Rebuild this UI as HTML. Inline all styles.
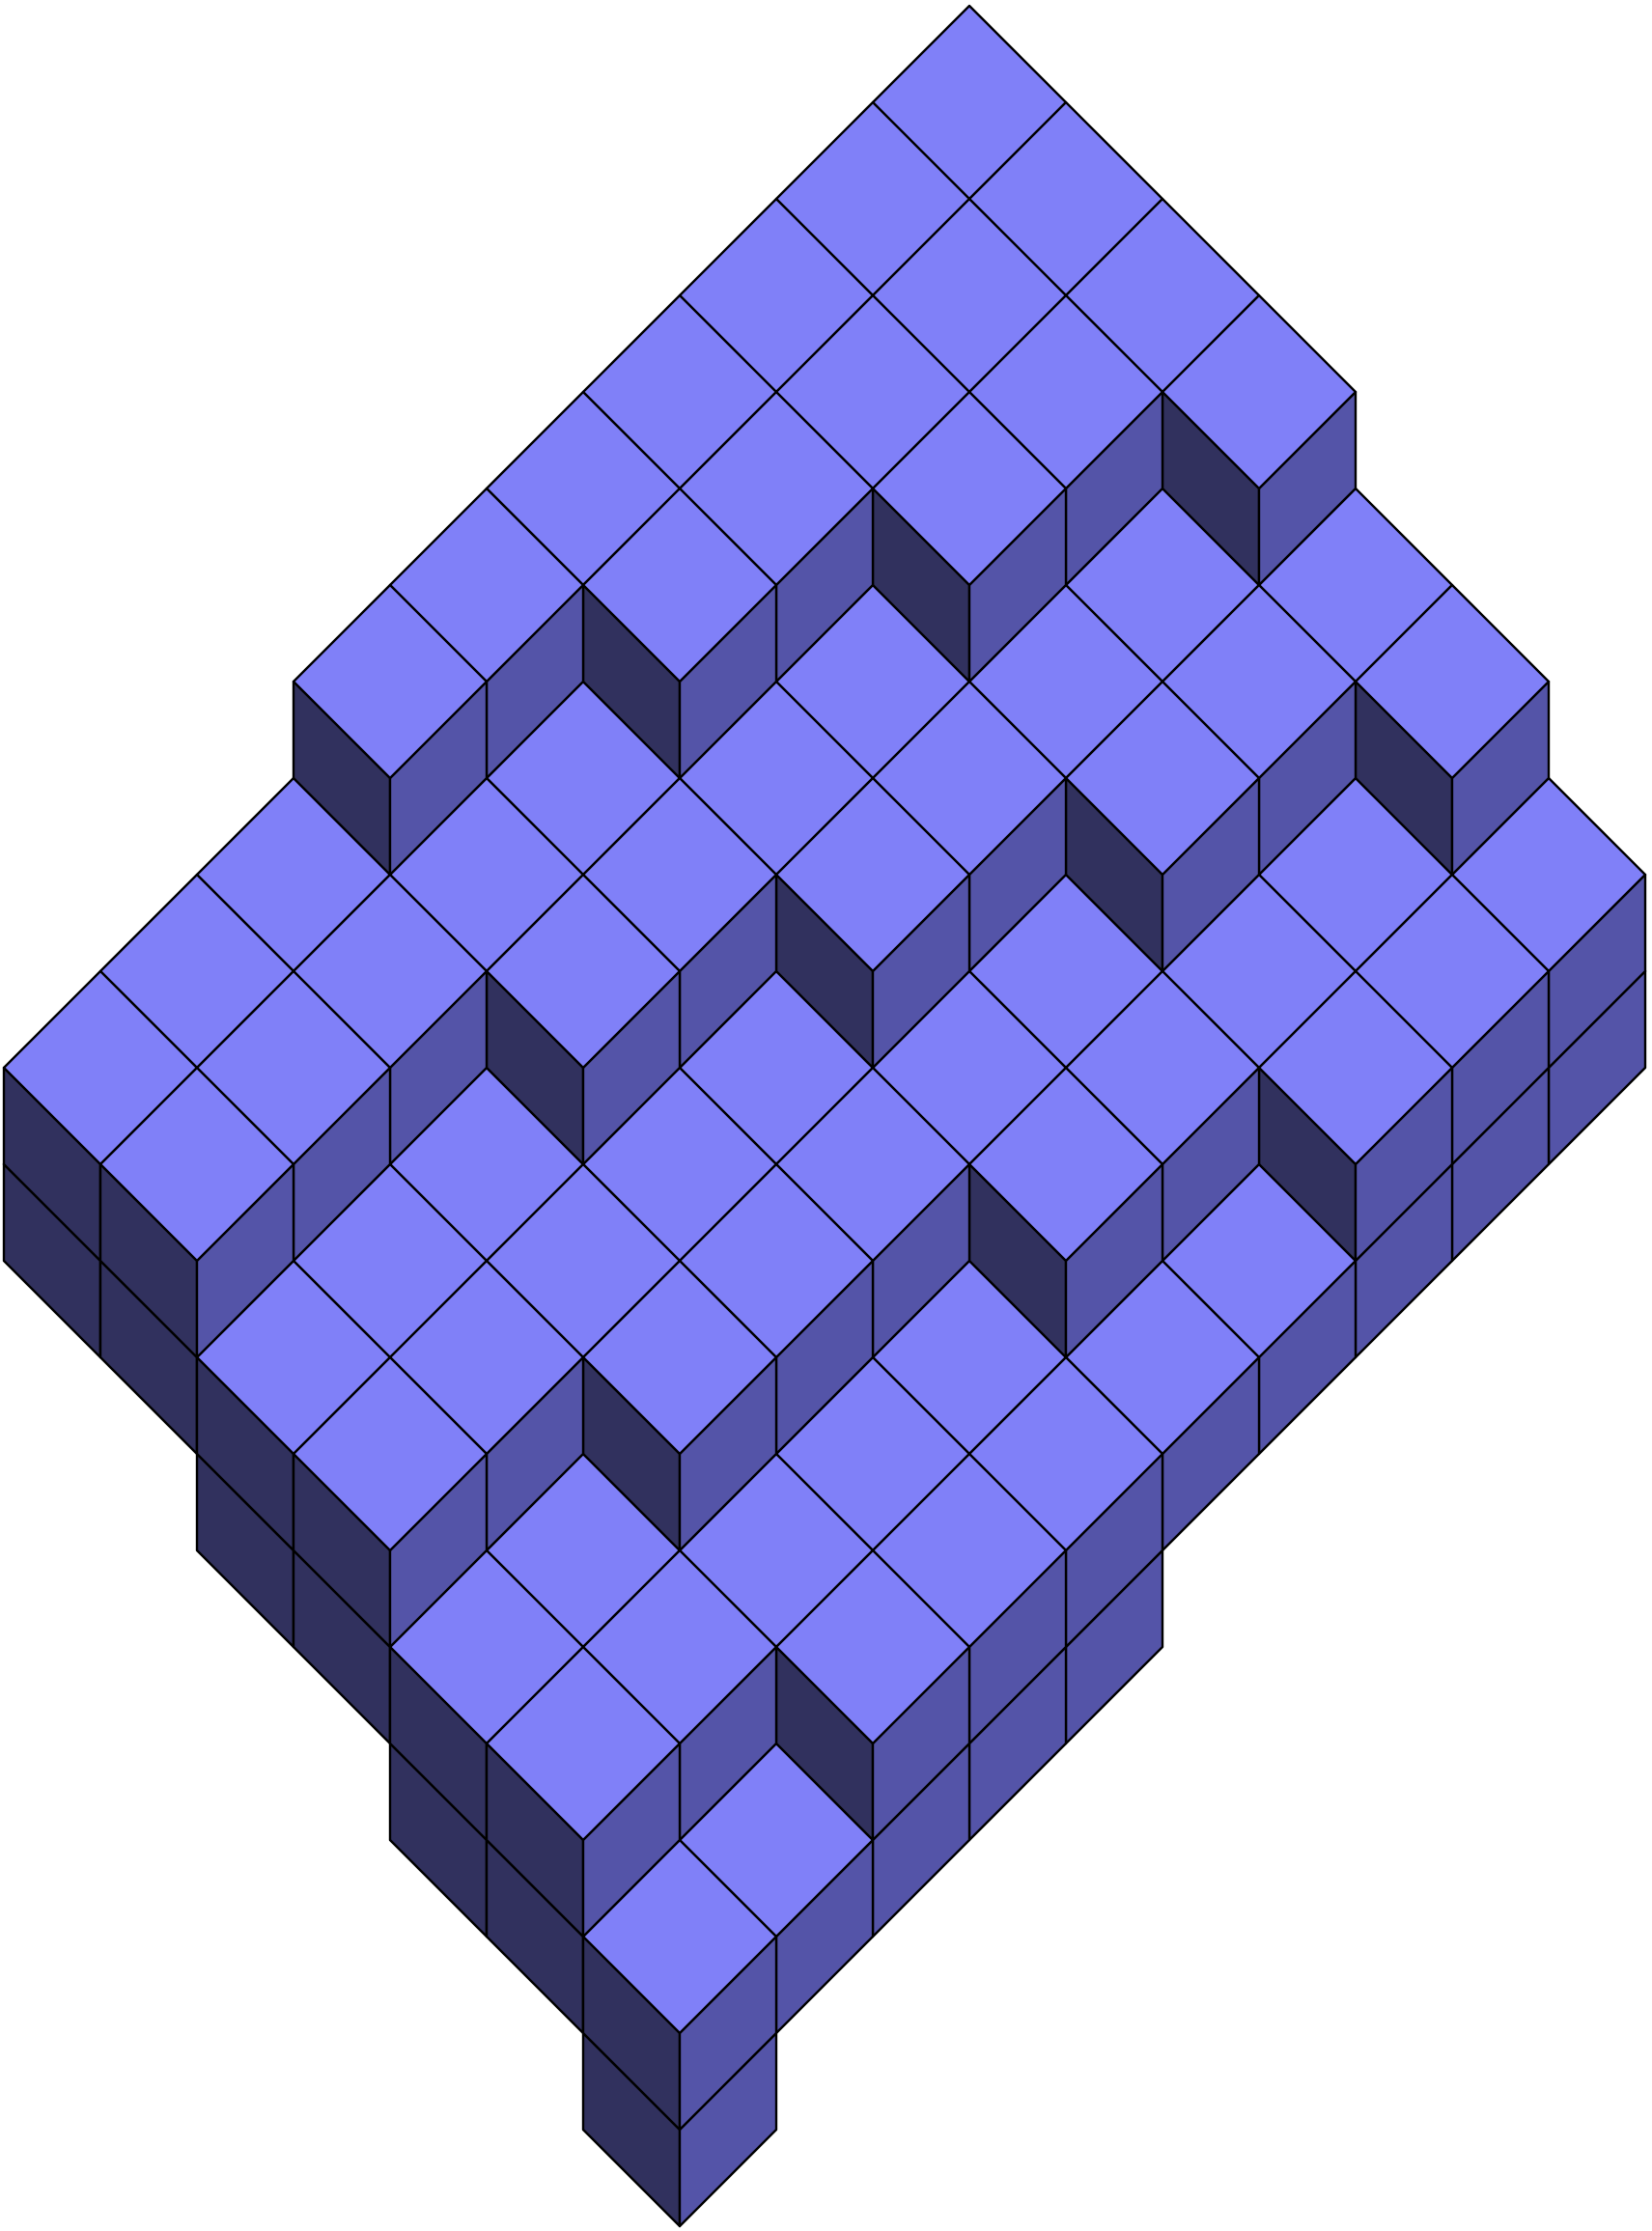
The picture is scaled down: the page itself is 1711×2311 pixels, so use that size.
<!DOCTYPE html>
<html>
<head>
<meta charset="utf-8">
<style>
  html,body{margin:0;padding:0;background:#ffffff;}
  svg{display:block;}
</style>
</head>
<body>
<svg id="chart" xmlns="http://www.w3.org/2000/svg" width="1711" height="2311" viewBox="0 0 1711 2311">
  <rect x="0" y="0" width="1711" height="2311" fill="#ffffff"/>
  <g id="cubes"></g>
</svg>
<script>
// heights[j][i] : top height of column (i, j); i runs down-right, j runs down-left
const heights = [
  [4,4,4,4,3,3,2],
  [4,4,4,3,3,2,2],
  [4,4,4,3,3,2,2],
  [4,4,3,3,2,2,1],
  [4,4,3,3,2,2,1],
  [4,3,3,2,2,1,1],
  [4,3,3,2,2,1,1],
  [3,3,2,2,2,1,1],
  [3,3,2,2,1,1,0],
  [3,3,2,2,1,1,0]
];
// bottoms[j][i] : base level of column (i, j)
const bottoms = [
  [2,2,2,2,1,1,0],
  [2,2,2,1,1,0,0],
  [2,2,2,1,1,0,0],
  [2,2,1,1,0,0,0],
  [2,2,1,1,0,0,0],
  [2,1,1,0,0,-1,-1],
  [2,1,1,0,0,-1,-1],
  [1,1,0,0,0,-1,-1],
  [1,1,0,0,-1,-1,-1],
  [1,1,0,0,-1,-1,-2]
];
const faceColors = ["#8080f8", "#31315e", "#5454a8"]; // top, left, right

const U = 100, X0 = 1004, Y0 = 6, HMAX = 4;
function sx(i, j) { return X0 + (i - j) * U; }
function sy(i, j, t) { return Y0 + (i + j - t + HMAX) * U; }

const g = document.getElementById('cubes');
const NS = 'http://www.w3.org/2000/svg';
const cubes = [];
for (let j = 0; j < heights.length; j++) {
  for (let i = 0; i < heights[j].length; i++) {
    const h = heights[j][i];
    for (let t = bottoms[j][i] + 1; t <= h; t++) cubes.push([i, j, t]);
  }
}
cubes.sort((a, b) => (a[0] + a[1] + a[2]) - (b[0] + b[1] + b[2]) || a[2] - b[2]);

function poly(pts, fill, name) {
  const p = document.createElementNS(NS, 'polygon');
  p.setAttribute('points', pts.map(q => q.join(',')).join(' '));
  p.setAttribute('fill', fill);
  p.setAttribute('stroke', '#000');
  p.setAttribute('stroke-width', '2.4');
  p.setAttribute('stroke-linejoin', 'round');
  
  
  g.appendChild(p);
}

cubes.forEach(([i, j, t]) => {
  const x = sx(i, j), y = sy(i, j, t);
  poly([[x - U, y + U], [x, y + 2 * U], [x, y + 3 * U], [x - U, y + 2 * U]], faceColors[1], 'cube-left-face');
  poly([[x, y + 2 * U], [x + U, y + U], [x + U, y + 2 * U], [x, y + 3 * U]], faceColors[2], 'cube-right-face');
  poly([[x, y], [x + U, y + U], [x, y + 2 * U], [x - U, y + U]], faceColors[0], 'cube-top-face');
});
</script>
</body>
</html>
